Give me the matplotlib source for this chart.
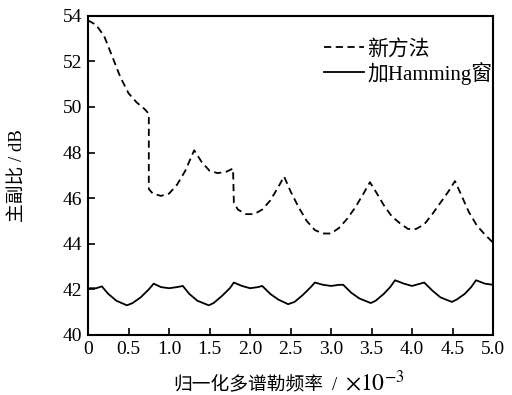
import matplotlib
matplotlib.use("Agg")
import matplotlib.pyplot as plt
import numpy as np

plt.rcParams['font.family'] = ['Liberation Serif', 'Noto Sans CJK SC', 'DejaVu Serif']
plt.rcParams['mathtext.fontset'] = 'stix'

# new method (dashed)
x_new = [0, 0.1, 0.2, 0.3, 0.4, 0.5, 0.6, 0.7, 0.75, 0.75, 0.8, 0.9, 1.0, 1.1, 1.2,
         1.31, 1.4, 1.5, 1.6, 1.7, 1.79, 1.8, 1.85, 1.95, 2.05, 2.15, 2.25, 2.35,
         2.42, 2.5, 2.6, 2.7, 2.8, 2.9, 3.0, 3.1, 3.2, 3.3, 3.4, 3.48, 3.55, 3.65,
         3.75, 3.85, 3.95, 4.05, 4.15, 4.25, 4.35, 4.45, 4.53, 4.6, 4.7, 4.8, 4.9, 5.0]
y_new = [53.8, 53.6, 53.1, 52.2, 51.3, 50.6, 50.2, 49.9, 49.7, 46.4, 46.2, 46.1, 46.2,
         46.6, 47.2, 48.1, 47.6, 47.2, 47.1, 47.15, 47.3, 45.8, 45.5, 45.3, 45.3, 45.5,
         45.9, 46.5, 46.95, 46.3, 45.6, 45.0, 44.6, 44.45, 44.45, 44.7, 45.1, 45.6, 46.2,
         46.7, 46.3, 45.7, 45.2, 44.9, 44.65, 44.65, 44.85, 45.3, 45.8, 46.3, 46.75,
         46.2, 45.4, 44.8, 44.4, 44.05]

# Hamming window (solid)
x_ham = [0, 0.1, 0.17, 0.25, 0.35, 0.48, 0.55, 0.65, 0.75, 0.81, 0.9, 1.0, 1.1, 1.17,
         1.25, 1.35, 1.49, 1.55, 1.65, 1.75, 1.8, 1.9, 2.0, 2.1, 2.15, 2.25, 2.35, 2.47,
         2.55, 2.65, 2.75, 2.8, 2.9, 3.0, 3.1, 3.15, 3.25, 3.35, 3.49, 3.55, 3.65, 3.73,
         3.79, 3.9, 4.0, 4.1, 4.15, 4.25, 4.35, 4.49, 4.55, 4.65, 4.73, 4.79, 4.9, 5.0]
y_ham = [42.05, 42.05, 42.13, 41.8, 41.5, 41.3, 41.4, 41.65, 42.0, 42.25, 42.1, 42.05,
         42.1, 42.15, 41.8, 41.5, 41.3, 41.4, 41.7, 42.05, 42.3, 42.15, 42.05, 42.1,
         42.15, 41.8, 41.55, 41.35, 41.45, 41.75, 42.1, 42.3, 42.2, 42.15, 42.2, 42.2,
         41.85, 41.6, 41.4, 41.5, 41.8, 42.1, 42.4, 42.25, 42.15, 42.25, 42.3, 41.95,
         41.65, 41.45, 41.55, 41.8, 42.1, 42.4, 42.25, 42.2]

xticks = [0, 0.5, 1.0, 1.5, 2.0, 2.5, 3.0, 3.5, 4.0, 4.5, 5.0]
xtick_labels = ['0', '0.5', '1.0', '1.5', '2.0', '2.5', '3.0', '3.5', '4.0', '4.5', '5.0']
yticks = [40, 42, 44, 46, 48, 50, 52, 54]

fig = plt.figure(figsize=(5.12, 3.95), dpi=100)
ax = fig.add_axes([0.172, 0.152, 0.791, 0.808])

ax.plot(x_new, y_new, 'k--', lw=1.3, dashes=(4, 2.5), label='新方法')
ax.plot(x_ham, y_ham, 'k-', lw=1.3, label='加Hamming窗')

ax.set_xlim(0, 5.0)
ax.set_ylim(40, 54)
ax.set_xticks(xticks)
ax.set_xticklabels(xtick_labels)
ax.set_yticks(yticks)
ax.tick_params(direction='in', labelsize=14, length=5, width=1.2, pad=4)
for s in ax.spines.values():
    s.set_linewidth(1.5)

ax.set_ylabel('主副比 / dB', fontsize=13.5)
ax.yaxis.set_label_coords(-0.152, 0.5)

# x label in pieces so the CJK part and the power of ten get their own fonts
fig.text(173 / 512, 0.012, '归一化多谱勒频率', fontsize=13.5, ha='left', va='baseline')
fig.text(335 / 512, 0.012, '/', fontsize=13.5, ha='center', va='baseline')
fig.text(345 / 512, 0.012, r'$\times10^{-3}$', fontsize=17, ha='left', va='baseline')

ax.legend(loc='upper right', frameon=False, fontsize=15, handlelength=1.9,
          handletextpad=0.15, labelspacing=0.1, borderpad=0, borderaxespad=0,
          bbox_to_anchor=(0.998, 0.925))

fig.savefig('out.png', dpi=100)
